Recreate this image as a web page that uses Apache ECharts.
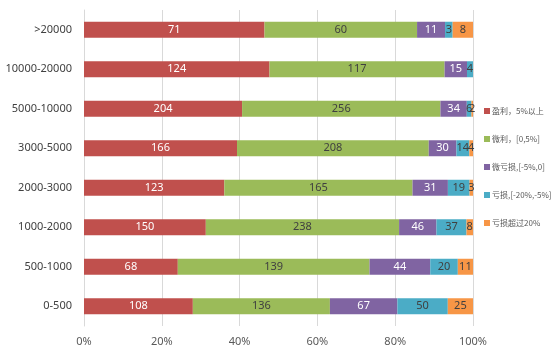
<!DOCTYPE html>
<html><head><meta charset="utf-8">
<script src="https://cdn.jsdelivr.net/npm/echarts@6/dist/echarts.min.js"></script>
<style>html,body{margin:0;padding:0;background:#fff}#c{width:557px;height:362px}</style>
</head><body><div id="c"></div>
<script>
const categories = ['0-500','500-1000','1000-2000','2000-3000','3000-5000','5000-10000','10000-20000','>20000'];
const seriesNames = ['盈利，5%以上','微利，[0,5%]','微亏损,[-5%,0]','亏损,[-20%,-5%]','亏损超过20%'];
const profitHigh = [108, 68, 150, 123, 166, 204, 124, 71];
const profitLow  = [136, 139, 238, 165, 208, 256, 117, 60];
const lossSmall  = [67, 44, 46, 31, 30, 34, 15, 11];
const lossMid    = [50, 20, 37, 19, 14, 6, 4, 3];
const lossBig    = [25, 11, 8, 3, 4, 2, 0, 8];
const xTicks = ['0%','20%','40%','60%','80%','100%'];

const raw = [profitHigh, profitLow, lossSmall, lossMid, lossBig];
const colors = ['#C0504D','#9BBB59','#8064A2','#4BACC6','#F79646'];
const labelColors = ['#ffffff','#404040','#ffffff','#404040','#404040'];
const totals = categories.map((_, i) => raw.reduce((s, a) => s + a[i], 0));
const font = '"Noto Sans", sans-serif';

const series = raw.map((arr, k) => ({
  name: seriesNames[k],
  type: 'bar',
  stack: 'all',
  barWidth: 16,
  itemStyle: { color: colors[k] },
  data: arr.map((v, i) => ({ value: v / totals[i] * 100, raw: v })),
  label: {
    show: true,
    position: 'inside',
    color: labelColors[k],
    fontSize: 11,
    fontFamily: font,
    formatter: p => p.data.raw === 0 ? '' : String(p.data.raw)
  }
}));

const chart = echarts.init(document.getElementById('c'), null, { renderer: 'canvas' });
chart.setOption({
  animation: false,
  textStyle: { fontFamily: font },
  grid: { left: 84, right: 84, top: 10, bottom: 36, containLabel: false },
  legend: {
    orient: 'vertical',
    left: 479,
    top: 102,
    itemWidth: 6,
    itemHeight: 6,
    itemGap: 20,
    icon: 'rect',
    textStyle: { fontSize: 8, color: '#595959', fontFamily: '"Liberation Sans Narrow", "Noto Sans CJK SC", sans-serif', padding: [0, 0, 0, -3] },
    data: seriesNames
  },
  xAxis: {
    type: 'value',
    min: 0, max: 100, interval: 20,
    axisLine: { show: false },
    axisTick: { show: false },
    splitLine: { show: true, lineStyle: { color: '#D9D9D9', width: 1 } },
    axisLabel: { color: '#595959', fontSize: 11, margin: 10, formatter: v => xTicks[Math.round(v / 20)] }
  },
  yAxis: {
    type: 'category',
    data: categories,
    axisLine: { show: true, lineStyle: { color: '#D9D9D9' } },
    axisTick: { show: false },
    axisLabel: { color: '#404040', fontSize: 11, margin: 12 }
  },
  series: series
});
</script></body></html>
